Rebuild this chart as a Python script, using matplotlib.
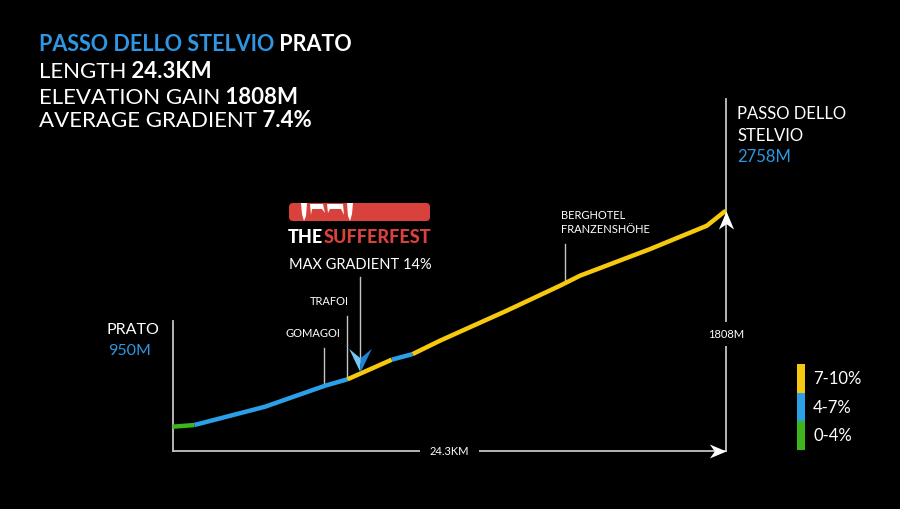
import numpy as np
import matplotlib.pyplot as plt
from matplotlib.patches import FancyBboxPatch, Polygon, Rectangle
from matplotlib.transforms import Affine2D

# climb profile (distance from Prato in km, elevation in m)
dist_km = [0, 0.96, 4.06, 6.70, 7.69, 9.63, 10.55, 11.75, 14.68, 17.02, 17.90, 20.98, 23.47, 24.3]
elev_m = [950, 964, 1117, 1293, 1347, 1511, 1558, 1670, 1921, 2130, 2214, 2437, 2632, 2758]

# gradient bands along the road
band_start = [0, 0.96, 7.69, 9.63, 10.55]
band_end = [0.96, 7.69, 9.63, 10.55, 24.3]
band_class = ['0-4%', '4-7%', '7-10%', '4-7%', '7-10%']

legend_classes = ['7-10%', '4-7%', '0-4%']
class_colors = {'0-4%': '#3db51c', '4-7%': '#2b9fe8', '7-10%': '#f6c90c'}

landmarks = ['GOMAGOI', 'TRAFOI', 'BERGHOTEL\nFRANZENSHÖHE']
landmark_km = [6.67, 7.68, 17.24]
max_grad_km = 8.24
max_gradient = 14

climb_name = 'PASSO DELLO STELVIO'
start_name = 'PRATO'
summit_name = 'PASSO DELLO\nSTELVIO'

BLUE = '#2e96e2'
GREY = '#c4c4c4'
RED = '#d9423c'
FONT = 'Lato'

d = np.array(dist_km)
e = np.array(elev_m)
length = d[-1]
gain = e[-1] - e[0]
avg = gain / (length * 1000) * 100

fig = plt.figure(figsize=(9, 5.1), dpi=100, facecolor='black')
ax = fig.add_axes([0, 0, 1, 1])
ax.set_facecolor('black')
ax.axis('off')

# map the climb onto the canvas: start at px (172.5, 427.7), summit at px (725.7, 211.7)
x0, x1, y0, y1 = 172.5, 725.7, 427.7, 211.7
kx = length / (x1 - x0)
ky = gain / (y0 - y1)
ax.set_xlim(-x0 * kx, (900 - x0) * kx)
ax.set_ylim(e[0] - (510 - y0) * ky, e[0] + y0 * ky)


def py2elev(py):
    return e[0] + (y0 - py) * ky


# pixel transform (top-left origin) for decoration
PX = Affine2D().scale(1 / 100, -1 / 100).translate(0, 5.1) + fig.dpi_scale_trans

# frame lines
base = py2elev(452)
ax.plot([0, 0], [base, py2elev(322)], color=GREY, lw=1.3)
ax.plot([0, length], [base, base], color=GREY, lw=1.3)
ax.plot([length, length], [base, py2elev(100)], color=GREY, lw=1.3)

arrow_right = [(0, 0), (-1, 0.42), (-0.7, 0), (-1, -0.42)]
arrow_up = [(0, 0), (0.42, -1), (0, -0.7), (-0.42, -1)]
ax.plot(length, base, marker=arrow_right, ms=24, color='white', mew=0)

# profile coloured by gradient band
for s, t, c in zip(band_start, band_end, band_class):
    m = (d >= s) & (d <= t)
    ax.plot(d[m], e[m], color=class_colors[c], lw=3.2, solid_capstyle='butt', zorder=3)
ax.plot(length, e[-1], marker=arrow_up, ms=26, color='white', mew=0, zorder=4)

# distance / gain labels
ax.text(length / 2, base, f'{length:.1f}KM', color='white', fontsize=8, family=FONT,
        ha='center', va='center', bbox=dict(facecolor='black', edgecolor='none', pad=7))
ax.text(length, py2elev(335), f'{gain}M', color='white', fontsize=8, family=FONT,
        ha='center', va='center', bbox=dict(facecolor='black', edgecolor='none', pad=5))

# landmarks
label_tops = [349, 316.7, 245]
label_offsets = [(-11, 10), (-18, 10), (-4, 10)]
label_ha = ['center', 'center', 'left']
for name, km, top, off, ha in zip(landmarks, landmark_km, label_tops, label_offsets, label_ha):
    ax.plot([km, km], [np.interp(km, d, e), py2elev(top)], color=GREY, lw=1)
    ax.annotate(name, xy=(km, py2elev(top)), xytext=off, textcoords='offset pixels',
                color='white', fontsize=8, family=FONT, ha=ha, va='bottom', linespacing=1.3)

# max gradient arrow
mg_elev = np.interp(max_grad_km, d, e)
ax.plot([max_grad_km, max_grad_km], [mg_elev + 12 * ky, py2elev(278)], color=GREY, lw=1)
ax.plot(max_grad_km, mg_elev + 2 * ky, marker=[(0, 0), (-0.48, 1), (0, 0.6)], ms=34,
        color='#74c6f7', mew=0, zorder=5)
ax.plot(max_grad_km, mg_elev + 2 * ky, marker=[(0, 0), (0.48, 1), (0, 0.6)], ms=34,
        color='#1f86d4', mew=0, zorder=5)
ax.annotate(f'MAX GRADIENT {max_gradient}%', xy=(max_grad_km, py2elev(265)), color='white',
            fontsize=10.5, family=FONT, ha='center', va='center')

# logo
fig.patches.append(FancyBboxPatch((289, 204), 141, 18, boxstyle='round,pad=0,rounding_size=4',
                                  transform=PX, facecolor=RED, edgecolor='none'))
claws = [
    [(301, 204), (307, 204), (306, 217), (304, 222), (302, 215)],
    [(347, 204), (353, 204), (352, 215), (350, 222), (348, 217)],
    [(310, 205), (323, 205), (325, 214), (322, 210), (312, 210), (311, 216)],
    [(327, 205), (343, 205), (344, 216), (341, 210), (330, 210), (328, 214)],
]
for c in claws:
    fig.patches.append(Polygon(c, closed=True, transform=PX, facecolor='white', edgecolor='none'))
t = fig.text(288 / 900, 1 - 246 / 510, 'THE', color='white', fontsize=13, family=FONT,
             weight='black', va='bottom')
ax.annotate('SUFFERFEST', xy=(1, 0), xycoords=t, color=RED, fontsize=13, family=FONT,
            weight='black', va='bottom')

# header


def chain(parts, x, y):
    prev = None
    for s, color, weight, size in parts:
        if prev is None:
            prev = fig.text(x / 900, 1 - y / 510, s, color=color, fontsize=size, family=FONT,
                            weight=weight, va='bottom')
        else:
            prev = ax.annotate(s, xy=(1, 0), xycoords=prev, color=color, fontsize=size,
                               family=FONT, weight=weight, va='bottom')


chain([(climb_name, BLUE, 'bold', 15.5), (' ' + start_name, 'white', 'bold', 15.5)], 39, 55)
chain([('LENGTH', 'white', 'normal', 16), (f' {length:.1f}KM', 'white', 'bold', 16)], 39, 82)
chain([('ELEVATION GAIN', 'white', 'normal', 16), (f' {gain}M', 'white', 'bold', 16)], 39, 108)
chain([('AVERAGE GRADIENT', 'white', 'normal', 16), (f' {avg:.1f}%', 'white', 'bold', 16)], 39, 131)

# start and summit labels
fig.text(106 / 900, 1 - 330 / 510, start_name, color='white', fontsize=11.5, family=FONT, va='center')
fig.text(108 / 900, 1 - 351 / 510, f'{e[0]}M', color=BLUE, fontsize=11.5, family=FONT, va='center')
fig.text(737 / 900, 1 - 125 / 510, summit_name, color='white', fontsize=12, family=FONT,
         va='center', linespacing=1.45)
fig.text(737 / 900, 1 - 157 / 510, f'{e[-1]}M', color=BLUE, fontsize=12, family=FONT, va='center')

# legend
leg_top = 365
for i, c in enumerate(legend_classes):
    fig.patches.append(Rectangle((797, leg_top + 28.7 * i), 8, 28.7, transform=PX,
                                 facecolor=class_colors[c], edgecolor='none'))
    fig.text(813 / 900, 1 - (leg_top + 14 + 28.7 * i) / 510, c, color='white', fontsize=12,
             family=FONT, va='center')

fig.savefig('out.png', facecolor='black')
